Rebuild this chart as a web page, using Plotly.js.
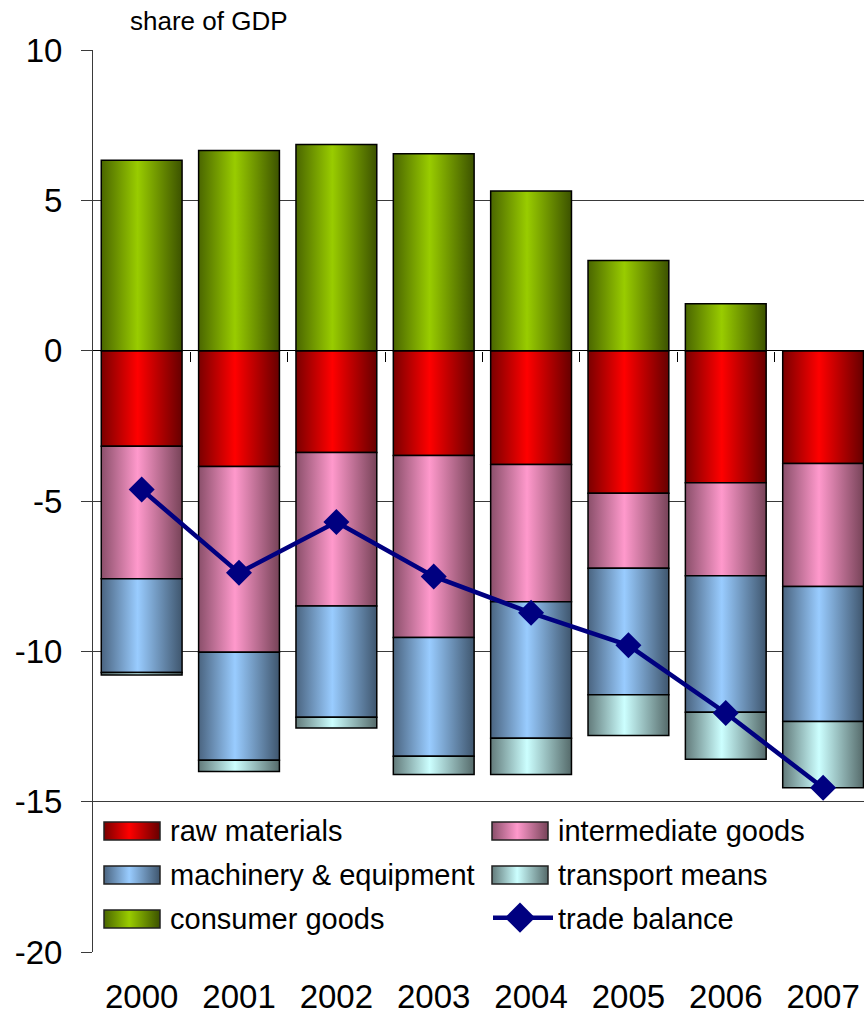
<!DOCTYPE html>
<html>
<head>
<meta charset="utf-8">
<script src="https://cdn.plot.ly/plotly-3.0.1.min.js"></script>
<style>
  html, body { margin: 0; padding: 0; background: #fff; }
  #chart { width: 864px; height: 1016px; }
</style>
</head>
<body>
<div id="chart"></div>
<script>
// Trade structure by product group, share of GDP
const years = ['2000', '2001', '2002', '2003', '2004', '2005', '2006', '2007'];
const rawMaterials = [-3.18, -3.85, -3.39, -3.49, -3.79, -4.74, -4.39, -3.75];
const intermediateGoods = [-4.41, -6.18, -5.10, -6.05, -4.56, -2.50, -3.10, -4.09];
const machineryEquipment = [-3.11, -3.59, -3.70, -3.95, -4.54, -4.20, -4.54, -4.49];
const transportMeans = [-0.09, -0.38, -0.36, -0.61, -1.21, -1.36, -1.56, -2.21];
const consumerGoods = [6.33, 6.66, 6.86, 6.55, 5.31, 3.00, 1.56, 0];
const tradeBalance = [-4.62, -7.39, -5.70, -7.51, -8.72, -9.80, -12.05, -14.54];
const yTickVals = [-20, -15, -10, -5, 0, 5, 10];
const yTickText = ['-20', '-15', '-10', '-5', '0', '5', '10'];
const boundaryTicks = [0.5, 1.5, 2.5, 3.5, 4.5, 5.5, 6.5, 7.5];

// bar shading: [left edge, centre, right edge]
const shades = [
  ['#7a0000', '#ff0000', '#660000'],
  ['#8a4f6a', '#ff99cc', '#774358'],
  ['#4a6480', '#99ccff', '#3f566e'],
  ['#627a7a', '#ccffff', '#556a6a'],
  ['#4a6600', '#99cc00', '#3c5200']
];

const barStyle = (c) => ({ color: c, line: { color: '#000', width: 1.5 } });

const traces = [
  { type: 'bar', name: 'raw materials', x: years, y: rawMaterials, marker: barStyle(shades[0][1]) },
  { type: 'bar', name: 'intermediate goods', x: years, y: intermediateGoods, marker: barStyle(shades[1][1]) },
  { type: 'bar', name: 'machinery & equipment', x: years, y: machineryEquipment, marker: barStyle(shades[2][1]) },
  { type: 'bar', name: 'transport means', x: years, y: transportMeans, marker: barStyle(shades[3][1]) },
  { type: 'bar', name: 'consumer goods', x: years, y: consumerGoods, marker: barStyle(shades[4][1]) },
  {
    type: 'scatter', mode: 'lines+markers', name: 'trade balance', x: years, y: tradeBalance,
    line: { color: '#000080', width: 4.5 },
    marker: { symbol: 'diamond', size: 20, color: '#000080' }
  },
  // carrier for the boundary ticks along the zero line
  { type: 'scatter', x: [], y: [], xaxis: 'x2', yaxis: 'y', showlegend: false, hoverinfo: 'skip' }
];

const font = 'Liberation Sans, Arial, sans-serif';

const layout = {
  width: 864,
  height: 1016,
  margin: { l: 93, r: 0, t: 50, b: 64 },
  paper_bgcolor: '#fff',
  plot_bgcolor: '#fff',
  font: { family: font, color: '#000' },
  barmode: 'relative',
  bargap: 0.17,
  hovermode: false,
  showlegend: true,
  legend: {
    orientation: 'h',
    traceorder: 'normal',
    x: 0.008, y: 0.165, xanchor: 'left', yanchor: 'top',
    entrywidth: 280, entrywidthmode: 'pixels',
    itemwidth: 60,
    font: { size: 29, family: font, color: '#000' },
    bgcolor: 'rgba(0,0,0,0)'
  },
  xaxis: {
    type: 'category',
    range: [-0.5, 7.42],
    automargin: false,
    showgrid: false, zeroline: false, showline: false,
    ticks: '',
    tickfont: { size: 33, family: font, color: '#000' },
    ticklabelstandoff: 22
  },
  xaxis2: {
    overlaying: 'x',
    anchor: 'free',
    position: 2 / 3,
    range: [-0.5, 7.42],
    automargin: false,
    showgrid: false, zeroline: false, showline: false,
    tickmode: 'array', tickvals: boundaryTicks,
    ticks: 'outside', ticklen: 10, tickcolor: '#000', tickwidth: 1,
    showticklabels: false
  },
  yaxis: {
    range: [-20, 10],
    automargin: false,
    tickmode: 'array', tickvals: yTickVals, ticktext: yTickText,
    showgrid: true, gridcolor: '#3a3a3a', gridwidth: 1,
    zeroline: true, zerolinecolor: '#000', zerolinewidth: 1.5,
    showline: true, linecolor: '#3a3a3a', linewidth: 1,
    ticks: 'outside', ticklen: 11, tickcolor: '#3a3a3a',
    tickfont: { size: 33, family: font, color: '#000' },
    ticklabelstandoff: 12
  },
  annotations: [{
    text: 'share of GDP',
    xref: 'paper', yref: 'paper',
    x: 0.046, y: 1.013, xanchor: 'left', yanchor: 'bottom',
    showarrow: false,
    font: { size: 26, family: font, color: '#000' }
  }]
};

Plotly.newPlot('chart', traces, layout, { displayModeBar: false, staticPlot: true }).then(function (gd) {
  const ns = 'http://www.w3.org/2000/svg';
  const svg = gd.querySelector('svg.main-svg');
  let defs = svg.querySelector('defs');
  if (!defs) { defs = document.createElementNS(ns, 'defs'); svg.insertBefore(defs, svg.firstChild); }

  // horizontal light-in-the-middle shading for each bar series
  shades.forEach(function (s, i) {
    const g = document.createElementNS(ns, 'linearGradient');
    g.setAttribute('id', 'shade' + i);
    g.setAttribute('x1', '0'); g.setAttribute('y1', '0');
    g.setAttribute('x2', '1'); g.setAttribute('y2', '0');
    [[0, s[0]], [0.45, s[1]], [1, s[2]]].forEach(function (st) {
      const stop = document.createElementNS(ns, 'stop');
      stop.setAttribute('offset', st[0]);
      stop.setAttribute('stop-color', st[1]);
      g.appendChild(stop);
    });
    defs.appendChild(g);
  });

  gd.querySelectorAll('.barlayer .trace').forEach(function (t, i) {
    t.querySelectorAll('path').forEach(function (p) { p.style.fill = 'url(#shade' + i + ')'; });
  });

  // legend: two columns, wide swatches
  const legend = gd.querySelector('.legend');
  if (!legend) return;
  legend.querySelectorAll('[clip-path]').forEach(function (el) { el.removeAttribute('clip-path'); });
  legend.removeAttribute('clip-path');

  const items = Array.from(legend.querySelectorAll('g.traces'));
  const colStep = 388, rowStep = 44;
  const textLeft0 = 170, rowCenter0 = 831;
  const parse = function (el) {
    const m = /translate\(\s*([-\d.e]+)[ ,]+([-\d.e]+)\s*\)/.exec(el.getAttribute('transform') || '');
    return m ? [parseFloat(m[1]), parseFloat(m[2])] : [0, 0];
  };
  const textOf = function (item) { return item.querySelector('text.legendtext') || item.querySelector('text'); };
  const base0 = parse(items[0]);
  const t0 = textOf(items[0]).getBoundingClientRect();
  const dx = textLeft0 - t0.left;
  const dy = rowCenter0 - (t0.top + t0.height / 2);
  items.forEach(function (item, i) {
    const col = i % 2, row = Math.floor(i / 2);
    item.setAttribute('transform', 'translate(' + (base0[0] + dx + col * colStep) + ',' + (base0[1] + dy + row * rowStep) + ')');
  });

  items.forEach(function (item, i) {
    const text = textOf(item).getBoundingClientRect();
    const cy = text.top + text.height / 2;
    const paths = Array.from(item.querySelectorAll('.legendpoints path'));
    if (i < shades.length) {
      const bar = paths[0];
      if (!bar) return;
      bar.style.fill = 'url(#shade' + i + ')';
      bar.style.strokeWidth = '1.5px';
      bar.style.stroke = '#222';
      const r = bar.getBoundingClientRect();
      const bb = bar.getBBox();
      const lx = (text.left - 10 - 56) - r.left + bb.x;
      const ly = (cy - 9) - r.top + bb.y;
      bar.setAttribute('d', 'M' + lx + ',' + ly + 'h56v18h-56Z');
    } else {
      paths.forEach(function (p) {
        const r = p.getBoundingClientRect();
        if (r.width > 30) {
          // connecting line
          const bb = p.getBBox();
          const lx = (text.left - 68) - r.left + bb.x;
          const ly = bb.y + bb.height / 2;
          p.setAttribute('d', 'M' + lx + ',' + ly + 'h60');
          p.style.strokeWidth = '4.5px';
        } else {
          // diamond marker, enlarged to the plotted size
          const shift = (text.left - 38) - (r.left + r.width / 2);
          const cur = parse(p);
          p.setAttribute('transform', 'translate(' + (cur[0] + shift) + ',' + cur[1] + ') scale(1.45)');
        }
      });
    }
  });
});
</script>
</body>
</html>
